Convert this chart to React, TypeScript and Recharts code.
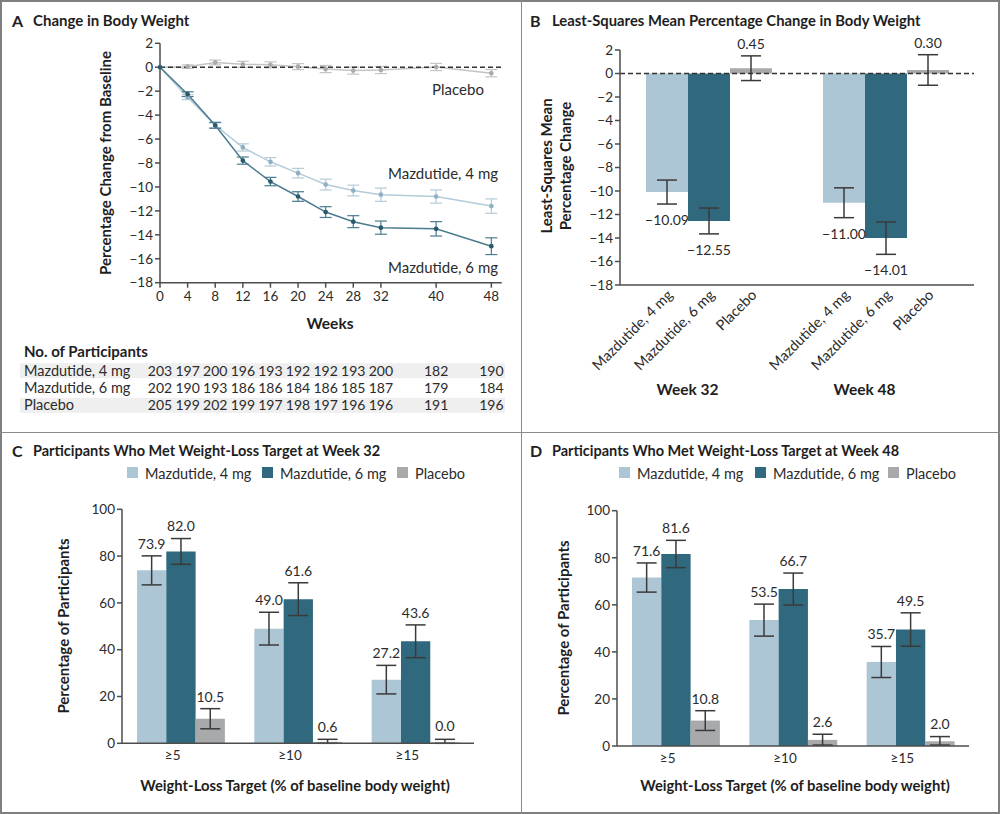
import React from "react";
import {
  Bar,
  BarChart,
  ComposedChart,
  ErrorBar,
  LabelList,
  Line,
  ReferenceLine,
  Scatter,
  ScatterChart,
  XAxis,
  YAxis,
} from "recharts";

const FONT = "Lato, 'Open Sans', Arial, sans-serif";
const INK = "#2b2b2b";
const AXIS = "#4d4d4d";
const LIGHT = "#adc6d5";
const DARK = "#30697d";
const GRAY = "#a8a9ab";
const LINE_LIGHT = "#b4cbd8";
const LINE_DARK = "#4a7b8e";
const LINE_GRAY = "#c4c4c4";
const WHISKER = "#3a3a3a";

type Err = [number, number];

const seriesNames = ["Mazdutide, 4 mg", "Mazdutide, 6 mg", "Placebo"];

// A: change in body weight over time
const weeks = [0, 4, 8, 12, 16, 20, 24, 28, 32, 40, 48];
const maz4Change = [0, -2.5, -4.85, -6.7, -7.9, -8.85, -9.8, -10.3, -10.65, -10.8, -11.6];
const maz4Se = [0, 0.2, 0.2, 0.3, 0.35, 0.4, 0.45, 0.45, 0.55, 0.55, 0.6];
const maz6Change = [0, -2.25, -4.85, -7.8, -9.55, -10.8, -12.1, -12.9, -13.4, -13.5, -14.95];
const maz6Se = [0, 0.2, 0.25, 0.3, 0.35, 0.4, 0.45, 0.5, 0.55, 0.6, 0.7];
const placeboChange = [0, 0.05, 0.4, 0.25, 0.2, 0.05, -0.15, -0.28, -0.23, 0.02, -0.5];
const placeboSe = [0, 0.15, 0.2, 0.25, 0.25, 0.25, 0.3, 0.3, 0.3, 0.3, 0.3];
const yTicksA = [2, 0, -2, -4, -6, -8, -10, -12, -14, -16, -18];

// participants at risk
const counts4 = [203, 197, 200, 196, 193, 192, 192, 193, 200, 182, 190];
const counts6 = [202, 190, 193, 186, 186, 184, 186, 185, 187, 179, 184];
const countsPlacebo = [205, 199, 202, 199, 197, 198, 197, 196, 196, 191, 196];

// B: least-squares mean change
const lsGroups = ["Week 32", "Week 48"];
const lsMaz4 = [-10.09, -11.0];
const lsMaz4Err = [1.02, 1.27];
const lsMaz6 = [-12.55, -14.01];
const lsMaz6Err = [1.1, 1.38];
const lsPlacebo = [0.45, 0.3];
const lsPlaceboErr = [1.05, 1.3];

// C, D: weight-loss targets
const targets = ["≥5", "≥10", "≥15"];
const wk32Maz4 = [73.9, 49.0, 27.2];
const wk32Maz4Err: Err[] = [[6.2, 6.2], [7.0, 7.0], [6.1, 6.1]];
const wk32Maz6 = [82.0, 61.6, 43.6];
const wk32Maz6Err: Err[] = [[5.5, 5.5], [7.0, 7.0], [7.0, 7.0]];
const wk32Placebo = [10.5, 0.6, 0.0];
const wk32PlaceboErr: Err[] = [[4.3, 4.3], [0.6, 1.1], [0, 1.7]];
const wk48Maz4 = [71.6, 53.5, 35.7];
const wk48Maz4Err: Err[] = [[6.2, 6.2], [6.8, 6.8], [6.6, 6.6]];
const wk48Maz6 = [81.6, 66.7, 49.5];
const wk48Maz6Err: Err[] = [[5.8, 5.8], [6.8, 6.8], [7.1, 7.1]];
const wk48Placebo = [10.8, 2.6, 2.0];
const wk48PlaceboErr: Err[] = [[4.2, 4.2], [2.2, 2.4], [1.6, 2.0]];
const pctTicks = [0, 20, 40, 60, 80, 100];

const minus = (s: string) => s.replace("-", "\u2212");

function Txt({ x, y, children, size = 15, bold = false, anchor = "middle", rotate = false, lh }: any) {
  const tx = anchor === "middle" ? "-50%" : anchor === "end" ? "-100%" : "0";
  return (
    <div
      style={{
        position: "absolute",
        left: x,
        top: y,
        transform: `translate(${tx},-50%)${rotate ? " rotate(-90deg)" : ""}`,
        whiteSpace: "nowrap",
        fontSize: size,
        fontWeight: bold ? 700 : 400,
        color: bold ? "#1e1e1e" : INK,
        textAlign: "center",
        lineHeight: lh ? `${lh}px` : "normal",
      }}
    >
      {children}
    </div>
  );
}

function Swatch({ x, y, color, label }: any) {
  return (
    <>
      <div style={{ position: "absolute", left: x, top: y - 6, width: 11, height: 11, background: color }} />
      <Txt x={x + 18} y={y} anchor="start" size={14.5}>
        {label}
      </Txt>
    </>
  );
}

// value label placed just beyond the end of the whisker
const barLabel = (errs: Err[], pxPerUnit: number, digits: number) => (props: any) => {
  const { x, y, width, height, value, index } = props;
  const v = Number(value);
  const y0 = Number(y);
  const y1 = Number(y) + Number(height || 0);
  const cx = Number(x) + Number(width) / 2;
  const e = errs[index ?? 0];
  const text = minus(v.toFixed(digits));
  const ty = v >= 0 ? Math.min(y0, y1) - e[1] * pxPerUnit - 12 : Math.max(y0, y1) + e[0] * pxPerUnit + 16;
  return (
    <text key={`l-${index}`} x={cx} y={ty} dy="0.35em" textAnchor="middle" fontSize={14} fill={INK}>
      {text}
    </text>
  );
};

const axisStyle = { stroke: AXIS, strokeWidth: 1.5 };
const tickStyle = { fill: INK, fontSize: 13.5 };

function RowTick({ y, payload }: any) {
  const r = seriesNames.indexOf(payload.value);
  return (
    <g>
      {r !== 1 && <rect x={20} y={y - 7.5} width={485} height={15} fill="#efefef" />}
      <text x={24} y={y} dy="0.35em" textAnchor="start" fontSize={14.5} fill={INK}>
        {payload.value}
      </text>
    </g>
  );
}

function LsTick({ x, y, payload }: any) {
  const BAR = 42;
  return (
    <g>
      {seriesNames.map((name, i) => (
        <text
          key={name}
          transform={`translate(${x + (i - 1) * BAR + 7},${y + 11}) rotate(-45)`}
          textAnchor="end"
          fontSize={14.5}
          fill={INK}
        >
          {name}
        </text>
      ))}
      <text x={x - BAR / 2} y={y + 105} dy="0.35em" textAnchor="middle" fontSize={15.5} fontWeight={700} fill="#1e1e1e">
        {payload.value}
      </text>
    </g>
  );
}

function TargetChart({ maz4, maz4Err, maz6, maz6Err, placebo, placeboErr, yAxisWidth, marginTop, marginRight, plotH }: any) {
  const data = targets.map((t, i) => ({
    target: t,
    maz4: maz4[i],
    maz4Err: maz4Err[i],
    maz6: maz6[i],
    maz6Err: maz6Err[i],
    placebo: placebo[i],
    placeboErr: placeboErr[i],
  }));
  const px = plotH / 100;
  const height = 345;
  return (
    <BarChart
      width={yAxisWidth + 352 + marginRight}
      height={height}
      data={data}
      margin={{ top: marginTop, right: marginRight, bottom: 0, left: 0 }}
      barGap={0}
      barSize={29.3}
    >
      <XAxis
        dataKey="target"
        height={height - marginTop - plotH}
        axisLine={axisStyle}
        tickLine={false}
        tickSize={0}
        tickMargin={7}
        tick={{ ...tickStyle, dx: -8 }}
      />
      <YAxis
        width={yAxisWidth}
        domain={[0, 100]}
        ticks={pctTicks}
        axisLine={axisStyle}
        tickLine={axisStyle}
        tickSize={5}
        tick={tickStyle}
      />
      <Bar dataKey="maz4" fill={LIGHT} isAnimationActive={false}>
        <ErrorBar dataKey="maz4Err" width={10} stroke={WHISKER} strokeWidth={1.5} />
        <LabelList dataKey="maz4" content={barLabel(maz4Err, px, 1)} />
      </Bar>
      <Bar dataKey="maz6" fill={DARK} isAnimationActive={false}>
        <ErrorBar dataKey="maz6Err" width={10} stroke={WHISKER} strokeWidth={1.5} />
        <LabelList dataKey="maz6" content={barLabel(maz6Err, px, 1)} />
      </Bar>
      <Bar dataKey="placebo" fill={GRAY} minPointSize={0.8} isAnimationActive={false}>
        <ErrorBar dataKey="placeboErr" width={10} stroke={WHISKER} strokeWidth={1.5} />
        <LabelList dataKey="placebo" content={barLabel(placeboErr, px, 1)} />
      </Bar>
    </BarChart>
  );
}

export default function App() {
  const lineData = weeks.map((w, i) => ({
    week: w,
    maz4: maz4Change[i],
    maz4Se: maz4Se[i],
    maz6: maz6Change[i],
    maz6Se: maz6Se[i],
    placebo: placeboChange[i],
    placeboSe: placeboSe[i],
  }));
  const tableRows = [counts4, counts6, countsPlacebo].map((counts, r) =>
    counts.map((n, i) => ({ week: weeks[i], row: seriesNames[r], n }))
  );
  const lsData = lsGroups.map((g, i) => ({
    group: g,
    maz4: lsMaz4[i],
    maz4Err: lsMaz4Err[i],
    maz6: lsMaz6[i],
    maz6Err: lsMaz6Err[i],
    placebo: lsPlacebo[i],
    placeboErr: lsPlaceboErr[i],
  }));
  const lsPx = 235 / 20;
  const sym = (a: number[]): Err[] => a.map((e) => [e, e]);

  return (
    <div
      style={{
        position: "absolute",
        left: 0,
        top: 0,
        width: 1000,
        height: 814,
        background: "#fff",
        fontFamily: FONT,
        color: INK,
        overflow: "hidden",
      }}
    >
      {/* frame */}
      <div style={{ position: "absolute", left: 0, top: 0, width: 1000, height: 814, boxSizing: "border-box", border: "2px solid #7f7f7f" }} />
      <div style={{ position: "absolute", left: 520.5, top: 0, width: 1.5, height: 814, background: "#8a8a8a" }} />
      <div style={{ position: "absolute", left: 0, top: 431.5, width: 1000, height: 1.5, background: "#8a8a8a" }} />

      {/* Panel A */}
      <Txt x={12} y={20} anchor="start" size={16} bold>A</Txt>
      <Txt x={33} y={20} anchor="start" size={15} bold>Change in Body Weight</Txt>
      <div style={{ position: "absolute", left: 0, top: 0 }}>
        <ComposedChart width={520} height={340} data={lineData} margin={{ top: 43.3, right: 18.3, bottom: 27.3, left: 0 }}>
          <XAxis
            dataKey="week"
            type="number"
            domain={[0, 49.5]}
            ticks={weeks}
            height={30}
            axisLine={axisStyle}
            tickLine={axisStyle}
            tickSize={5}
            tickMargin={4}
            tick={tickStyle}
          />
          <YAxis
            width={160}
            domain={[-18, 2]}
            ticks={yTicksA}
            axisLine={axisStyle}
            tickLine={axisStyle}
            tickSize={5}
            tick={tickStyle}
            tickFormatter={(v: number) => minus(String(v))}
          />
          <Line dataKey="placebo" stroke={LINE_GRAY} strokeWidth={1.5} dot={{ r: 1.6, fill: "#aaa", stroke: "#aaa" }} isAnimationActive={false}>
            <ErrorBar dataKey="placeboSe" width={6} stroke={LINE_GRAY} strokeWidth={1.2} />
          </Line>
          <Line dataKey="maz4" stroke={LINE_LIGHT} strokeWidth={1.5} dot={{ r: 1.6, fill: "#8fb0c2", stroke: "#8fb0c2" }} isAnimationActive={false}>
            <ErrorBar dataKey="maz4Se" width={6} stroke={LINE_LIGHT} strokeWidth={1.2} />
          </Line>
          <Line dataKey="maz6" stroke={LINE_DARK} strokeWidth={1.5} dot={{ r: 1.6, fill: "#2a5a6c", stroke: "#2a5a6c" }} isAnimationActive={false}>
            <ErrorBar dataKey="maz6Se" width={6} stroke={LINE_DARK} strokeWidth={1.2} />
          </Line>
          <ReferenceLine y={0} stroke="#333" strokeWidth={1.5} strokeDasharray="5 3" />
        </ComposedChart>
      </div>
      <Txt x={105} y={163} size={15} bold rotate>Percentage Change from Baseline</Txt>
      <Txt x={330} y={323} size={15.5} bold>Weeks</Txt>
      <Txt x={458} y={89} size={15}>Placebo</Txt>
      <Txt x={443} y={173} size={15}>Mazdutide, 4 mg</Txt>
      <Txt x={443} y={267} size={15}>Mazdutide, 6 mg</Txt>

      <Txt x={24} y={351} anchor="start" size={15} bold>No. of Participants</Txt>
      <div style={{ position: "absolute", left: 0, top: 362 }}>
        <ScatterChart width={520} height={52} margin={{ top: 0, right: 18.3, bottom: 0, left: 0 }}>
          <XAxis dataKey="week" type="number" domain={[0, 49.5]} hide />
          <YAxis
            dataKey="row"
            type="category"
            allowDuplicatedCategory={false}
            reversed
            interval={0}
            width={160}
            axisLine={false}
            tickLine={false}
            tick={<RowTick />}
          />
          {tableRows.map((rows, r) => (
            <Scatter key={r} data={rows} shape={() => <g />} isAnimationActive={false}>
              <LabelList dataKey="n" position="center" fill={INK} fontSize={14} />
            </Scatter>
          ))}
        </ScatterChart>
      </div>

      {/* Panel B */}
      <Txt x={530} y={20} anchor="start" size={16} bold>B</Txt>
      <Txt x={552} y={20} anchor="start" size={14.8} bold>Least-Squares Mean Percentage Change in Body Weight</Txt>
      <div style={{ position: "absolute", left: 520, top: 0 }}>
        <BarChart
          width={480}
          height={420}
          data={lsData}
          margin={{ top: 50, right: 26, bottom: 0, left: 0 }}
          barGap={0}
          barSize={42}
        >
          <XAxis dataKey="group" height={135} axisLine={axisStyle} tickLine={false} tickSize={0} tickMargin={0} tick={<LsTick />} />
          <YAxis
            width={100}
            domain={[-18, 2]}
            ticks={yTicksA}
            axisLine={axisStyle}
            tickLine={axisStyle}
            tickSize={5}
            tick={tickStyle}
            tickFormatter={(v: number) => minus(String(v))}
          />
          <Bar dataKey="maz4" fill={LIGHT} isAnimationActive={false}>
            <ErrorBar dataKey="maz4Err" width={10} stroke={WHISKER} strokeWidth={1.5} />
            <LabelList dataKey="maz4" content={barLabel(sym(lsMaz4Err), lsPx, 2)} />
          </Bar>
          <Bar dataKey="maz6" fill={DARK} isAnimationActive={false}>
            <ErrorBar dataKey="maz6Err" width={10} stroke={WHISKER} strokeWidth={1.5} />
            <LabelList dataKey="maz6" content={barLabel(sym(lsMaz6Err), lsPx, 2)} />
          </Bar>
          <Bar dataKey="placebo" fill={GRAY} isAnimationActive={false}>
            <ErrorBar dataKey="placeboErr" width={10} stroke={WHISKER} strokeWidth={1.5} />
            <LabelList dataKey="placebo" content={barLabel(sym(lsPlaceboErr), lsPx, 2)} />
          </Bar>
          <ReferenceLine y={0} stroke="#333" strokeWidth={1.5} strokeDasharray="5 3" />
        </BarChart>
      </div>
      <Txt x={556} y={166} size={15} bold rotate lh={19}>
        Least-Squares Mean
        <br />
        Percentage Change
      </Txt>

      {/* Panel C */}
      <Txt x={12} y={450} anchor="start" size={16} bold>C</Txt>
      <Txt x={33} y={450} anchor="start" size={14.5} bold>Participants Who Met Weight-Loss Target at Week 32</Txt>
      <Swatch x={127} y={473} color={LIGHT} label={seriesNames[0]} />
      <Swatch x={262} y={473} color={DARK} label={seriesNames[1]} />
      <Swatch x={397} y={473} color={GRAY} label={seriesNames[2]} />
      <div style={{ position: "absolute", left: 0, top: 432 }}>
        <TargetChart
          maz4={wk32Maz4}
          maz4Err={wk32Maz4Err}
          maz6={wk32Maz6}
          maz6Err={wk32Maz6Err}
          placebo={wk32Placebo}
          placeboErr={wk32PlaceboErr}
          yAxisWidth={122}
          marginTop={77.3}
          marginRight={50}
          plotH={234}
        />
      </div>
      <Txt x={63} y={626} size={15} bold rotate>Percentage of Participants</Txt>
      <Txt x={295} y={785} size={14.8} bold>Weight-Loss Target (% of baseline body weight)</Txt>

      {/* Panel D */}
      <Txt x={530} y={450} anchor="start" size={16} bold>D</Txt>
      <Txt x={552} y={450} anchor="start" size={14.5} bold>Participants Who Met Weight-Loss Target at Week 48</Txt>
      <Swatch x={619} y={473} color={LIGHT} label={seriesNames[0]} />
      <Swatch x={755} y={473} color={DARK} label={seriesNames[1]} />
      <Swatch x={888} y={473} color={GRAY} label={seriesNames[2]} />
      <div style={{ position: "absolute", left: 520, top: 432 }}>
        <TargetChart
          maz4={wk48Maz4}
          maz4Err={wk48Maz4Err}
          maz6={wk48Maz6}
          maz6Err={wk48Maz6Err}
          placebo={wk48Placebo}
          placeboErr={wk48PlaceboErr}
          yAxisWidth={97}
          marginTop={78.7}
          marginRight={31}
          plotH={235.3}
        />
      </div>
      <Txt x={563} y={628} size={15} bold rotate>Percentage of Participants</Txt>
      <Txt x={795} y={785} size={14.8} bold>Weight-Loss Target (% of baseline body weight)</Txt>
    </div>
  );
}
